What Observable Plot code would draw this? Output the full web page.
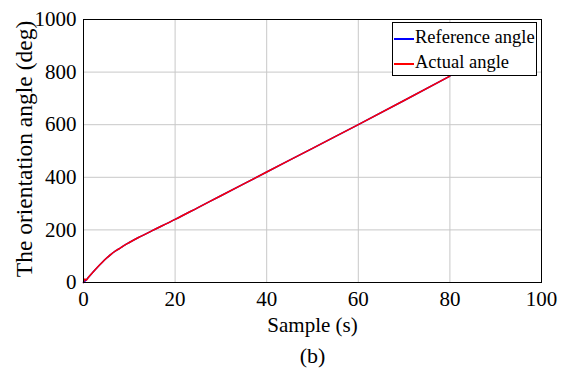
<!DOCTYPE html>
<html>
<head>
<meta charset="utf-8">
<script src="https://cdn.jsdelivr.net/npm/d3@7"></script>
<script src="https://cdn.jsdelivr.net/npm/@observablehq/plot@0.6"></script>
<style>
  html, body { margin: 0; padding: 0; background: white; }
  #wrap { position: relative; width: 567px; height: 378px; overflow: hidden; }
  #legend {
    position: absolute; left: 392px; top: 22px; width: 145px; height: 54px;
    border: 1px solid #000; background: white; box-sizing: border-box;
    font-family: "Liberation Serif", serif; font-size: 18.5px; color: #000;
  }
  #legend .row { position: absolute; left: 0; height: 24px; line-height: 24px; white-space: nowrap; }
  #legend .sw { display: inline-block; width: 20px; height: 2px; vertical-align: middle; margin-left: 1px; margin-right: 1px; }
</style>
</head>
<body>
<div id="wrap"></div>
<script>
// Data
const time = [0, 0.3, 0.6, 1, 2, 3, 4, 5, 6, 7, 8, 9, 10, 12, 15, 20, 25, 30, 40, 50, 60, 70, 80];
const referenceAngle = [0, 5, 10, 18, 38, 57, 75, 92, 107, 120, 131, 142, 152, 171, 197, 240, 285, 330, 420, 510, 600, 692, 785];
const actualAngle = [0, 13, 9, 18, 38, 57, 75, 92, 107, 120, 131, 142, 152, 171, 197, 240, 285, 330, 420, 510, 600, 692, 785];
const seriesNames = ["Reference angle", "Actual angle"];
const seriesColors = ["#0000ff", "#ff0000"];
const xTicks = [0, 20, 40, 60, 80, 100];
const yTicks = [0, 200, 400, 600, 800, 1000];
const xLabel = "Sample (s)";
const yLabel = "The orientation angle (deg)";
const caption = "(b)";

const refRows = time.map((t, i) => ({t, v: referenceAngle[i]}));
const actRows = time.map((t, i) => ({t, v: actualAngle[i]}));

const chart = Plot.plot({
  width: 567,
  height: 378,
  marginLeft: 83,
  marginRight: 26,
  marginTop: 19,
  marginBottom: 96,
  style: {fontFamily: "Liberation Serif, serif", fontSize: "21px", background: "white", color: "black", overflow: "visible"},
  x: {domain: [0, 100], ticks: xTicks, tickSize: 0, tickPadding: 9, tickFormat: d3.format("d"), label: null},
  y: {domain: [0, 1000], ticks: yTicks, tickSize: 0, tickPadding: 7, tickFormat: d3.format("d"), label: null},
  marks: [
    Plot.ruleX(xTicks, {stroke: "#c8c8c8", strokeWidth: 1}),
    Plot.ruleY(yTicks, {stroke: "#c8c8c8", strokeWidth: 1}),
    Plot.line(refRows, {x: "t", y: "v", stroke: seriesColors[0], strokeWidth: 1.5, curve: "monotone-x"}),
    Plot.line(actRows, {x: "t", y: "v", stroke: seriesColors[1], strokeWidth: 1.5, curve: "monotone-x"}),
    Plot.frame({stroke: "black", strokeWidth: 1}),
    Plot.text([xLabel], {text: d => d, frameAnchor: "bottom", dy: 49, fontSize: 21}),
    Plot.text([yLabel], {text: d => d, frameAnchor: "left", textAnchor: "middle", dx: -59, dy: -2, rotate: -90, fontSize: 23.5}),
    Plot.text([caption], {text: d => d, frameAnchor: "bottom", dy: 80, fontSize: 22})
  ]
});
const wrap = document.getElementById("wrap");
wrap.appendChild(chart);

const legend = document.createElement("div");
legend.id = "legend";
seriesNames.forEach((name, i) => {
  const row = document.createElement("div");
  row.className = "row";
  row.style.top = (i === 0 ? 2 : 27) + "px";
  const sw = document.createElement("span");
  sw.className = "sw";
  sw.style.background = seriesColors[i];
  row.appendChild(sw);
  row.appendChild(document.createTextNode(name));
  legend.appendChild(row);
});
wrap.appendChild(legend);
</script>
</body>
</html>
